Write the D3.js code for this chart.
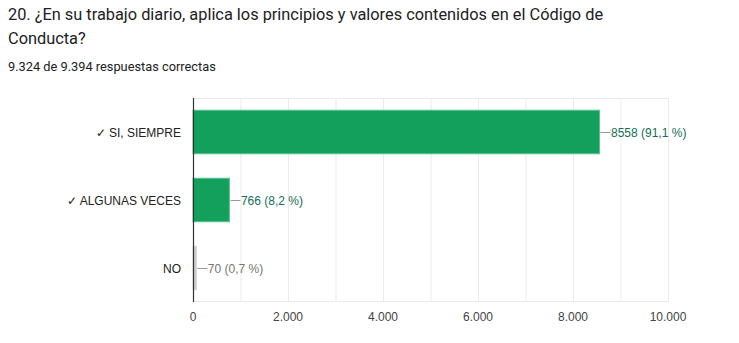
<!DOCTYPE html>
<html><head><meta charset="utf-8">
<script src="https://cdn.jsdelivr.net/npm/d3@7/dist/d3.min.js"></script>
<style>
body{margin:0;background:#fff;}
svg{display:block;font-family:Roboto,Arial,sans-serif;}
.ch{font-family:"Liberation Sans",Arial,sans-serif;}
</style></head>
<body>
<svg id="c" width="739" height="343"></svg>
<script>
const titleLines = ["20. ¿En su trabajo diario, aplica los principios y valores contenidos en el Código de", "Conducta?"];
const subtitle = "9.324 de 9.394 respuestas correctas";
const categories = ["✓ SI, SIEMPRE", "✓ ALGUNAS VECES", "NO"];
const values = [8558, 766, 70];
const percents = ["91,1 %", "8,2 %", "0,7 %"];
const correct = [true, true, false];
const tickValues = [0, 2000, 4000, 6000, 8000, 10000];
const gridValues = [1000, 2000, 3000, 4000, 5000, 6000, 7000, 8000, 9000, 10000];

const svg = d3.select("#c");
svg.append("g").selectAll("text").data(titleLines).join("text")
  .attr("x", 8).attr("y", 20).attr("y", (d,i)=>20 + i*24)
  .attr("font-size", 16.35).attr("fill", "#202124").text(d=>d);
svg.append("text").attr("x", 8).attr("y", 71).attr("font-size", 12.8)
  .attr("fill", "#202124").text(subtitle);

const x = d3.scaleLinear().domain([0, 10000]).range([193, 668]);
const y = d3.scaleBand().domain(categories).range([98, 302]).paddingInner(0.36).paddingOuter(0.18);

const fmt = d3.formatLocale({decimal: ",", thousands: ".", grouping: [3], currency: ["", ""]}).format(",d");

// grid
svg.append("g").selectAll("line").data(gridValues).join("line")
  .attr("x1", d=>x(d)+0.5).attr("x2", d=>x(d)+0.5)
  .attr("y1", 98).attr("y2", 302).attr("stroke", "#ebebeb").attr("stroke-width", 1);
svg.append("line").attr("x1", 193).attr("x2", 668).attr("y1", 98.5).attr("y2", 98.5).attr("stroke", "#ebebeb");
svg.append("line").attr("x1", 193).attr("x2", 668).attr("y1", 301.5).attr("y2", 301.5).attr("stroke", "#ebebeb");

// bars
const bars = svg.append("g").attr("class", "ch");
categories.forEach((c, i) => {
  const col = correct[i] ? "#12a05c" : "#cccccc";
  bars.append("rect").attr("x", x(0)).attr("y", y(c))
    .attr("width", Math.max(x(values[i]) - x(0), 0)).attr("height", y.bandwidth())
    .attr("fill", col).attr("stroke", correct[i] ? "#5cc08f" : "#d8d8d8").attr("stroke-width", 1);
  const ym = y(c) + y.bandwidth()/2;
  const xe = x(values[i]) + 1;
  bars.append("line").attr("x1", xe).attr("x2", xe + 10).attr("y1", ym + 0.5).attr("y2", ym + 0.5)
    .attr("stroke", "#999").attr("stroke-width", 1);
  bars.append("text").attr("x", xe + 10.5).attr("y", ym + 4.5).attr("font-size", 12)
    .attr("fill", correct[i] ? "#146e55" : "#757575")
    .text(values[i] + " (" + percents[i] + ")");
  bars.append("text").attr("x", 181).attr("y", ym + 4.5).attr("font-size", 12)
    .attr("text-anchor", "end").attr("fill", "#222").text(c);
});

// axis line
svg.append("line").attr("x1", 193.5).attr("x2", 193.5).attr("y1", 98).attr("y2", 302)
  .attr("stroke", "#333").attr("stroke-width", 1.2);

// tick labels
svg.append("g").attr("class", "ch").selectAll("text").data(tickValues).join("text")
  .attr("x", d=>x(d)).attr("y", 321).attr("text-anchor", "middle")
  .attr("font-size", 12).attr("fill", "#444").text(d=>fmt(d));
</script>
</body></html>
